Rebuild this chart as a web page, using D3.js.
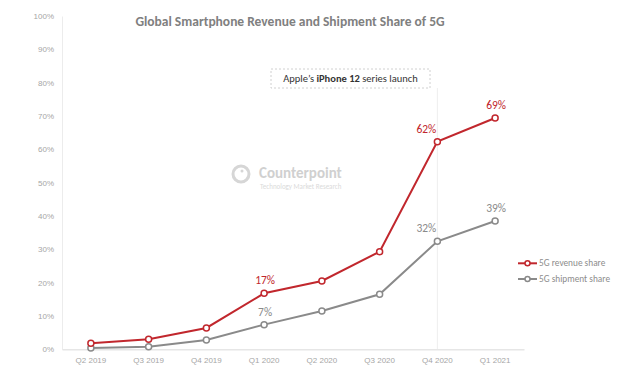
<!DOCTYPE html>
<html><head><meta charset="utf-8">
<script src="https://cdn.jsdelivr.net/npm/d3@7"></script>
<style>body{margin:0;background:#fff;} svg{display:block;font-family:Carlito,"Open Sans","Liberation Sans",sans-serif;}</style>
</head><body>
<svg id="c" width="625" height="384"></svg>
<script>
const categories = ["Q2 2019","Q3 2019","Q4 2019","Q1 2020","Q2 2020","Q3 2020","Q4 2020","Q1 2021"];
const revenueShare = [1.8, 3.0, 6.4, 16.8, 20.5, 29.3, 62.3, 69.4];
const shipmentShare = [0.4, 0.8, 2.8, 7.4, 11.5, 16.5, 32.4, 38.5];
const revenueLabels = {"Q1 2020":"17%","Q4 2020":"62%","Q1 2021":"69%"};
const shipmentLabels = {"Q1 2020":"7%","Q4 2020":"32%","Q1 2021":"39%"};
const yTicks = [0,10,20,30,40,50,60,70,80,90,100];
const seriesNames = ["5G revenue share","5G shipment share"];

const red = "#c1272d", gray = "#8a8a8a";
const svg = d3.select("#c");
const x = d3.scaleBand().domain(categories).range([62, 524]);
const y = d3.scaleLinear().domain([0,100]).range([349.3, 16]);
const cx = d => x(d) + x.bandwidth()/2;

// axes
const yAxis = svg.append("g").attr("transform","translate(62,0)")
  .call(d3.axisLeft(y).tickValues(yTicks).tickFormat(d=>d+"%").tickSize(0).tickPadding(8));
yAxis.select(".domain").attr("stroke","#ececec");
yAxis.selectAll("text").attr("fill","#a6a6a6").attr("font-size","8px");

const xAxis = svg.append("g").attr("transform","translate(0,349.3)")
  .call(d3.axisBottom(x).tickSize(0).tickPadding(8));
xAxis.select(".domain").attr("stroke","#e6e6e6").attr("stroke-width",1.5);
xAxis.selectAll("text").attr("fill","#a6a6a6").attr("font-size","8px");

// watermark
const wm = svg.append("g");
wm.append("circle").attr("cx",241).attr("cy",174).attr("r",8).attr("fill","none").attr("stroke","#d6d6d6").attr("stroke-width",3);
wm.append("circle").attr("cx",242).attr("cy",171).attr("r",1.5).attr("fill","#d6d6d6");
wm.append("text").attr("x",259).attr("y",178).attr("font-size","15px").attr("font-weight","bold").attr("fill","#d0d0d0").text("Counterpoint");
wm.append("text").attr("x",260).attr("y",189).attr("font-size","7px").attr("fill","#dadada").text("Technology Market Research");

// vertical launch line
svg.append("line").attr("x1",cx("Q4 2020")).attr("x2",cx("Q4 2020")).attr("y1",88).attr("y2",349)
  .attr("stroke","#eeeeee").attr("stroke-width",1);

// annotation box
svg.append("rect").attr("x",271).attr("y",69).attr("width",159).attr("height",19)
  .attr("fill","#fff").attr("stroke","#d0d0d0").attr("stroke-dasharray","2,2");
const at = svg.append("text").attr("x",350.5).attr("y",82).attr("text-anchor","middle").attr("font-size","10.5px").attr("fill","#333");
at.append("tspan").text("Apple’s ");
at.append("tspan").attr("font-weight","bold").text("iPhone 12");
at.append("tspan").text(" series launch");

// title
svg.append("text").attr("x",290).attr("y",26).attr("text-anchor","middle").attr("font-size","13.5px")
  .attr("font-weight","bold").attr("fill","#808080").text("Global Smartphone Revenue and Shipment Share of 5G");

function drawSeries(vals, color, labels, lblSize){
  const data = categories.map((c,i)=>({c, v: vals[i]}));
  svg.append("path").datum(data).attr("fill","none").attr("stroke",color).attr("stroke-width",2)
    .attr("d", d3.line().x(d=>cx(d.c)).y(d=>y(d.v)));
  svg.selectAll(null).data(data).enter().append("circle")
    .attr("cx",d=>cx(d.c)).attr("cy",d=>y(d.v)).attr("r",3)
    .attr("fill","#fff").attr("stroke",color).attr("stroke-width",1.5);
  svg.selectAll(null).data(data.filter(d=>labels[d.c])).enter().append("text")
    .attr("x",d=>cx(d.c) + (d.c==="Q4 2020" ? -11 : 1)).attr("y",d=>y(d.v)-9)
    .attr("text-anchor","middle").attr("font-size",lblSize).attr("fill",color)
    .text(d=>labels[d.c]);
}
drawSeries(shipmentShare, gray, shipmentLabels, "11.5px");
drawSeries(revenueShare, red, revenueLabels, "11.5px");

// legend
const legend = svg.append("g");
[[seriesNames[0], red, 263.3],[seriesNames[1], gray, 279]].forEach(([name,col,ly])=>{
  legend.append("line").attr("x1",518).attr("x2",537).attr("y1",ly).attr("y2",ly).attr("stroke",col).attr("stroke-width",2);
  legend.append("circle").attr("cx",527.5).attr("cy",ly).attr("r",2.5).attr("fill","#fff").attr("stroke",col).attr("stroke-width",1.5);
  legend.append("text").attr("x",539).attr("y",ly+3).attr("font-size","9.3px").attr("fill","#8c8c8c").text(name);
});
</script>
</body></html>
